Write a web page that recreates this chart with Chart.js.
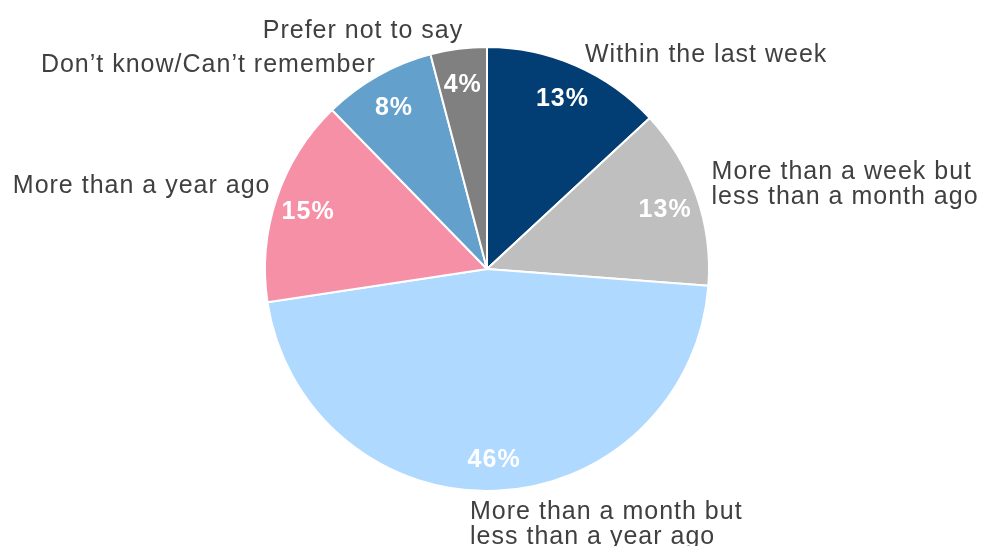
<!DOCTYPE html>
<html>
<head>
<meta charset="utf-8">
<script src="https://cdn.jsdelivr.net/npm/chart.js@4.4.1/dist/chart.umd.min.js"></script>
<style>
  html, body { margin: 0; padding: 0; background: #ffffff; }
  #wrap { width: 982px; height: 546px; position: relative; }
</style>
</head>
<body>
<div id="wrap"><canvas id="chart"></canvas></div>
<script>
// Data
const categories = [
    ["Within the last week"],
    ["More than a week but", "less than a month ago"],
    ["More than a month but", "less than a year ago"],
    ["More than a year ago"],
    ["Don\u2019t know/Can\u2019t remember"],
    ["Prefer not to say"]
];
const shares = [13.1, 13.1, 46.4, 15.1, 8.2, 4.1];
const sliceColors = ["#023e73", "#bfbfbf", "#afd9ff", "#f590a6", "#64a0cc", "#808080"];

// small nudges for the outside labels (x, y)
const labelNudge = [[2, 7], [-2, -1], [-26, 3], [11, -6], [7, 5], [7, 1]];

const pieLabels = {
    id: "pieLabels",
    afterDatasetsDraw(chart) {
        const ctx = chart.ctx;
        const meta = chart.getDatasetMeta(0);
        ctx.save();
        meta.data.forEach((arc, i) => {
            const p = arc.getProps(["x", "y", "startAngle", "endAngle", "outerRadius"], true);
            const mid = (p.startAngle + p.endAngle) / 2;
            const dx = Math.cos(mid), dy = Math.sin(mid);

            // percent inside the slice
            const rIn = p.outerRadius * 0.85;
            ctx.font = "bold 25px 'Liberation Sans', Arial, sans-serif";
            ctx.letterSpacing = "1px";
            ctx.fillStyle = "#ffffff";
            ctx.textAlign = "center";
            ctx.textBaseline = "middle";
            ctx.fillText(Math.round(shares[i]) + "%", p.x + dx * rIn, p.y + dy * rIn + 3);

            // category outside
            const rOut = p.outerRadius + 18;
            const lines = categories[i];
            const lh = 25;
            const blockH = lines.length * lh;
            let ax = p.x + dx * rOut + labelNudge[i][0];
            let cy = p.y + dy * rOut + dy * (blockH / 2 - 12) + labelNudge[i][1];
            ctx.font = "25px 'Liberation Sans', Arial, sans-serif";
            ctx.letterSpacing = "1px";
            ctx.fillStyle = "#404040";
            ctx.textAlign = dx < -0.05 ? "right" : "left";
            lines.forEach((t, k) => {
                ctx.fillText(t, ax, cy - blockH / 2 + lh / 2 + k * lh);
            });
        });
        ctx.restore();
    }
};

new Chart(document.getElementById("chart"), {
    type: "pie",
    data: {
        labels: categories.map(c => c.join(" ")),
        datasets: [{
            data: shares,
            backgroundColor: sliceColors,
            borderColor: "#ffffff",
            borderWidth: 2
        }]
    },
    options: {
        responsive: true,
        maintainAspectRatio: false,
        animation: false,
        layout: { padding: { top: 46, bottom: 54, left: 0, right: 8 } },
        plugins: {
            legend: { display: false },
            tooltip: { enabled: false }
        }
    },
    plugins: [pieLabels]
});
</script>
</body>
</html>
